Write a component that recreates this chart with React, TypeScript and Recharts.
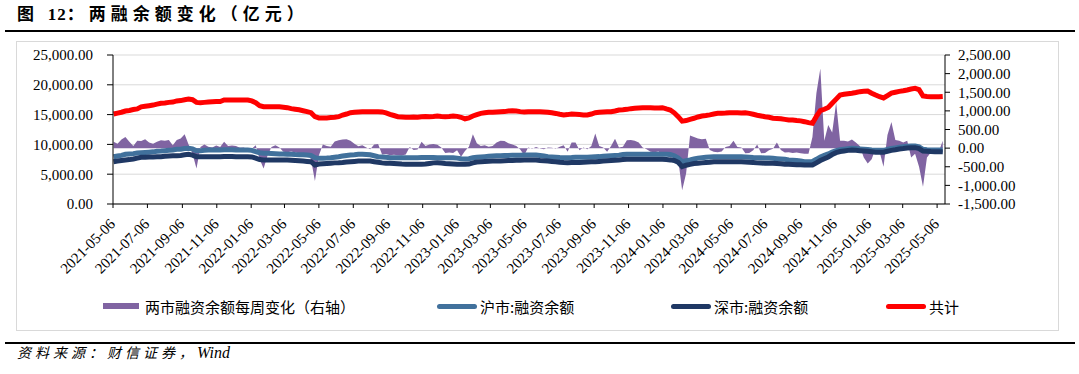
import React from "react"
import {
  ComposedChart,
  Area,
  Line,
  XAxis,
  YAxis,
  CartesianGrid,
} from "recharts"

// weekly observations (Fridays), first week 2021-05-07
const FIRST_WEEK = "2021-05-07"

const TICK_DATES = [
  "2021-05-06", "2021-07-06", "2021-09-06", "2021-11-06",
  "2022-01-06", "2022-03-06", "2022-05-06", "2022-07-06", "2022-09-06", "2022-11-06",
  "2023-01-06", "2023-03-06", "2023-05-06", "2023-07-06", "2023-09-06", "2023-11-06",
  "2024-01-06", "2024-03-06", "2024-05-06", "2024-07-06", "2024-09-06", "2024-11-06",
  "2025-01-06", "2025-03-06", "2025-05-06",
]

const LEFT_TICKS = [0, 5000, 10000, 15000, 20000, 25000]
const RIGHT_TICKS = [-1500, -1000, -500, 0, 500, 1000, 1500, 2000, 2500]

// 两市融资余额每周变化（右轴）
const WEEKLY_CHANGE = [
  170, 120, 230, 300, 170, 60, 200, 190, 240, 150,
  120, 170, 210, 200, 215, 80, 215, 260, 375, 100,
  -150, -545, 30, 100, 40, 20, 70, 30, 170, 60,
  70, 60, 10, 20, -50, -20, 80, -300, -545, -200,
  30, 80, 20, -100, -110, -90, -120, -140, -150, -140,
  -300, -880, -200, 100, 60, 40, 180, 210, 230, 240,
  200, 120, 50, 80, 20, -30, 100, 110, -170, -160,
  -190, -180, -190, -200, -170, 30, -50, -40, 170, 60,
  100, 110, 90, 20, -130, -120, -130, -60, -230, -80,
  40, 375, 130, 60, 80, 40, 60, 150, 200, 190,
  130, 100, 60, -40, -190, 20, -20, 30, -10, -30,
  20, 10, -20, 40, 80, -100, 150, 150, -60, 20,
  -30, 60, 395, 60, 20, -100, 60, 250, 20, 40,
  210, 215, 200, 150, 20, -30, -100, -110, -90, -150,
  -200, -250, -230, -300, -1130, -680, 340, 300, 260, 240,
  250, -50, -100, -110, -90, 30, 60, 200, 30, 20,
  -140, -130, -60, 100, -140, -130, -60, -20, 150, -50,
  -120, -110, -130, -120, -140, -150, -150, 300, 1470, 2140,
  200, 620, 420, 1220, 200, 200, 180, 230, 150, 60,
  -250, -410, -300, 0, -100, -500, 350, 700, 220, 200,
  150, 200, -250, -150, -500, -1040, -250, -120, -130, -100, 200,
]

// 沪市:融资余额
const SH_BALANCE = [
  7940, 8050, 8150, 8340, 8400, 8450, 8550, 8610, 8650, 8700,
  8750, 8850, 8890, 8950, 9000, 9050, 9170, 9200, 9300, 9340,
  9250, 8940, 8950, 9000, 9060, 9060, 9060, 9060, 9100, 9100,
  9100, 9060, 9060, 9060, 9060, 9000, 8800, 8600, 8500, 8500,
  8480, 8450, 8400, 8380, 8340, 8340, 8300, 8280, 8250, 8220,
  8150, 7770, 7660, 7680, 7700, 7750, 7850, 7940, 8050, 8150,
  8220, 8250, 8340, 8340, 8300, 8250, 8100, 7940, 7900, 7850,
  7770, 7770, 7770, 7770, 7770, 7770, 7770, 7770, 7800, 7800,
  7800, 7800, 7770, 7770, 7770, 7770, 7770, 7700, 7600, 7550,
  7600, 7750, 7830, 7900, 7950, 8000, 8050, 8100, 8100, 8150,
  8150, 8200, 8200, 8200, 8220, 8220, 8220, 8220, 8150, 8050,
  7940, 7900, 7850, 7800, 7770, 7770, 7800, 7850, 7850, 7850,
  7850, 7900, 7940, 7950, 8000, 8050, 8100, 8150, 8200, 8300,
  8340, 8340, 8340, 8340, 8340, 8340, 8340, 8340, 8340, 8340,
  8340, 8300, 8100, 7700, 7100, 7250, 7380, 7550, 7700, 7770,
  7850, 7900, 7940, 7940, 7940, 7940, 7940, 7940, 7940, 7940,
  7900, 7850, 7800, 7780, 7750, 7720, 7700, 7660, 7600, 7550,
  7500, 7400, 7350, 7300, 7200, 7100, 7100, 7150, 7500, 7900,
  8150, 8400, 8700, 8950, 9100, 9200, 9280, 9340, 9300, 9250,
  9200, 9150, 9060, 9000, 9000, 9000, 9150, 9300, 9400, 9510,
  9600, 9700, 9730, 9750, 9600, 9170, 9100, 9060, 9060, 9060, 9060,
]

// 深市:融资余额
const SZ_BALANCE = [
  7100, 7200, 7300, 7380, 7450, 7550, 7700, 7830, 7850, 7880,
  7900, 7920, 7940, 8000, 8050, 8080, 8100, 8150, 8250, 8340,
  8200, 7940, 7940, 7940, 7940, 7940, 7940, 7940, 7980, 7980,
  7980, 7940, 7940, 7940, 7940, 7900, 7700, 7450, 7380, 7380,
  7380, 7380, 7380, 7380, 7380, 7350, 7300, 7250, 7200, 7150,
  7100, 6540, 6710, 6750, 6800, 6850, 6900, 6930, 6980, 7050,
  7100, 7150, 7200, 7210, 7210, 7200, 7100, 7000, 6900, 6850,
  6820, 6800, 6750, 6700, 6680, 6650, 6650, 6650, 6650, 6700,
  6800, 6900, 6930, 6880, 6800, 6750, 6700, 6650, 6650, 6650,
  6700, 6900, 7050, 7100, 7150, 7180, 7200, 7210, 7210, 7250,
  7280, 7300, 7320, 7350, 7380, 7380, 7380, 7380, 7300, 7250,
  7210, 7150, 7100, 7000, 6950, 6930, 6950, 6950, 6950, 7000,
  7050, 7080, 7100, 7150, 7200, 7250, 7300, 7350, 7400, 7450,
  7500, 7500, 7500, 7500, 7500, 7500, 7500, 7500, 7500, 7500,
  7450, 7400, 7300, 7000, 6260, 6500, 6650, 6800, 6850, 6900,
  6950, 7000, 7100, 7100, 7100, 7100, 7100, 7100, 7100, 7100,
  7050, 7000, 6950, 6900, 6870, 6850, 6830, 6820, 6780, 6740,
  6680, 6650, 6620, 6600, 6580, 6540, 6540, 6560, 6900, 7300,
  7600, 7900, 8300, 8610, 8800, 8900, 9000, 9060, 9000, 8950,
  8900, 8850, 8780, 8700, 8700, 8700, 8850, 9000, 9100, 9230,
  9300, 9400, 9450, 9450, 9300, 8890, 8850, 8800, 8780, 8780, 8780,
]

// 共计
const TOTAL_BALANCE = [
  15100, 15250, 15400, 15600, 15700, 15850, 15950, 16300, 16400, 16500,
  16600, 16750, 16900, 16950, 17050, 17100, 17300, 17350, 17500, 17600,
  17500, 17050, 17000, 17050, 17100, 17150, 17200, 17200, 17450, 17450,
  17450, 17450, 17450, 17450, 17450, 17300, 17000, 16500, 16330, 16330,
  16300, 16330, 16300, 16250, 16160, 16000, 15900, 15800, 15650, 15500,
  15320, 14650, 14430, 14450, 14450, 14500, 14550, 14650, 14930, 15100,
  15320, 15380, 15440, 15480, 15490, 15490, 15490, 15480, 15450, 15300,
  15050, 14850, 14650, 14600, 14550, 14550, 14600, 14550, 14650, 14700,
  14650, 14700, 14770, 14700, 14650, 14700, 14770, 14700, 14550, 14300,
  14450, 14770, 15000, 15210, 15300, 15380, 15400, 15450, 15490, 15500,
  15600, 15660, 15600, 15500, 15450, 15490, 15490, 15480, 15490, 15450,
  15400, 15300, 15200, 15050, 14930, 15000, 15100, 15050, 15000, 14950,
  14930, 15100, 15320, 15400, 15450, 15490, 15490, 15600, 15770, 15800,
  15880, 16000, 16050, 16100, 16160, 16160, 16160, 16100, 16100, 16160,
  15950, 15770, 15300, 14650, 13900, 14000, 14210, 14380, 14600, 14770,
  14850, 14950, 15100, 15210, 15210, 15250, 15320, 15320, 15300, 15250,
  15320, 15200, 15050, 14900, 14770, 14650, 14550, 14380, 14350, 14300,
  14200, 14100, 14100, 14000, 13950, 13810, 13650, 13540, 14700, 15660,
  15900, 16200, 16890, 17600, 18290, 18400, 18500, 18570, 18700, 18850,
  18900, 18960, 18600, 18290, 18000, 17800, 18200, 18600, 18750, 18900,
  19000, 19130, 19300, 19410, 19200, 18120, 18050, 18000, 18000, 18010, 18050,
]

const DAY = 86400000
const X_MIN = Date.parse("2021-05-06")
const X_MAX = Date.parse("2025-05-20")
const X_TICKS = TICK_DATES.map((d) => Date.parse(d))

const weekStart = Date.parse(FIRST_WEEK)
const chartData = TOTAL_BALANCE.map((total, i) => ({
  t: weekStart + i * 7 * DAY,
  change: WEEKLY_CHANGE[i],
  sh: SH_BALANCE[i],
  sz: SZ_BALANCE[i],
  total,
}))

const SERIF = '"Times New Roman", "Liberation Serif", serif'
const CJK = '"Noto Sans CJK SC", sans-serif'

const COLORS = {
  change: "#8064a2",
  sh: "#41719c",
  sz: "#1f3864",
  total: "#ff0000",
}

const fmt = (v: number) =>
  v.toLocaleString("en-US", { minimumFractionDigits: 2, maximumFractionDigits: 2 })

function DateTick({ x, y, payload }: any) {
  const label = new Date(payload.value).toISOString().slice(0, 10)
  const ax = x + 3
  const ay = y + 15
  return (
    <text
      x={ax}
      y={ay}
      textAnchor="end"
      transform={`rotate(-45 ${ax} ${ay})`}
      fontSize={15}
      fontFamily={SERIF}
      fill="#000"
    >
      {label}
    </text>
  )
}

function LegendItem({ left, label, color, bar }: { left: number; label: string; color: string; bar?: boolean }) {
  return (
    <div style={{ position: "absolute", left, top: 296, height: 20, display: "flex", alignItems: "center" }}>
      <div
        style={{
          width: bar ? 36 : 40,
          height: bar ? 6 : 5,
          background: color,
          borderRadius: bar ? 0 : 3,
          marginRight: bar ? 6 : 3,
        }}
      />
      <span style={{ fontFamily: CJK, fontSize: 15, color: "#000", whiteSpace: "nowrap" }}>{label}</span>
    </div>
  )
}

export default function App() {
  return (
    <div
      style={{
        position: "fixed",
        left: 0,
        top: 0,
        width: 1079,
        height: 374,
        background: "#fff",
        overflow: "hidden",
      }}
    >
      <div
        style={{
          position: "absolute",
          left: 17,
          top: 3,
          lineHeight: "20px",
          fontSize: 17,
          fontWeight: "bold",
          letterSpacing: 5,
          fontFamily: CJK,
          color: "#000",
          whiteSpace: "nowrap",
        }}
      >
        图 <span style={{ fontFamily: SERIF, letterSpacing: 1 }}>12</span>：两融余额变化（亿元）
      </div>
      <div style={{ position: "absolute", left: 5, right: 4, top: 30, height: 2, background: "#000" }} />

      <div
        style={{
          position: "absolute",
          left: 16,
          top: 41,
          width: 1043,
          height: 290,
          border: "1px solid #d9d9d9",
          boxSizing: "border-box",
        }}
      />

      <div style={{ position: "absolute", left: 0, top: 0 }}>
        <ComposedChart
          width={1079}
          height={374}
          data={chartData}
          margin={{ top: 55, right: 0, bottom: 110, left: 0 }}
        >
          <CartesianGrid yAxisId="left" vertical={false} stroke="#d9d9d9" />
          <XAxis
            dataKey="t"
            type="number"
            domain={[X_MIN, X_MAX]}
            ticks={X_TICKS}
            interval={0}
            allowDataOverflow
            height={60}
            tickSize={4}
            tickMargin={2}
            axisLine={{ stroke: "#000" }}
            tickLine={{ stroke: "#000" }}
            tick={<DateTick />}
          />
          <YAxis
            yAxisId="left"
            orientation="left"
            width={113}
            domain={[0, 25000]}
            ticks={LEFT_TICKS}
            interval={0}
            tickSize={6}
            tickMargin={14}
            tickFormatter={fmt}
            axisLine={{ stroke: "#000" }}
            tickLine={{ stroke: "#000" }}
            tick={{ fontSize: 15, fontFamily: SERIF, fill: "#000" }}
          />
          <YAxis
            yAxisId="right"
            orientation="right"
            width={134}
            domain={[-1500, 2500]}
            ticks={RIGHT_TICKS}
            interval={0}
            tickSize={5}
            tickMargin={8}
            tickFormatter={fmt}
            axisLine={{ stroke: "#000" }}
            tickLine={{ stroke: "#000" }}
            tick={{ fontSize: 15, fontFamily: SERIF, fill: "#000", textAnchor: "start" }}
          />
          <Area
            yAxisId="right"
            dataKey="change"
            type="linear"
            baseValue={0}
            fill={COLORS.change}
            fillOpacity={1}
            stroke="none"
            isAnimationActive={false}
          />
          <Line
            yAxisId="left"
            dataKey="sh"
            type="linear"
            stroke={COLORS.sh}
            strokeWidth={5}
            dot={false}
            isAnimationActive={false}
          />
          <Line
            yAxisId="left"
            dataKey="sz"
            type="linear"
            stroke={COLORS.sz}
            strokeWidth={5}
            dot={false}
            isAnimationActive={false}
          />
          <Line
            yAxisId="left"
            dataKey="total"
            type="linear"
            stroke={COLORS.total}
            strokeWidth={5}
            dot={false}
            isAnimationActive={false}
          />
        </ComposedChart>
      </div>

      <LegendItem left={103} label="两市融资余额每周变化（右轴）" color={COLORS.change} bar />
      <LegendItem left={437} label="沪市:融资余额" color={COLORS.sh} />
      <LegendItem left={671} label="深市:融资余额" color={COLORS.sz} />
      <LegendItem left={886} label="共计" color={COLORS.total} />

      <div style={{ position: "absolute", left: 5, right: 4, top: 342, height: 2, background: "#000" }} />
      <div
        style={{
          position: "absolute",
          left: 17,
          top: 342,
          lineHeight: "20px",
          fontSize: 14,
          fontStyle: "italic",
          letterSpacing: 4,
          fontFamily: CJK,
          color: "#000",
          whiteSpace: "nowrap",
        }}
      >
        资料来源：财信证券，<span style={{ fontFamily: SERIF, fontSize: 16, letterSpacing: 0 }}>Wind</span>
      </div>
    </div>
  )
}
